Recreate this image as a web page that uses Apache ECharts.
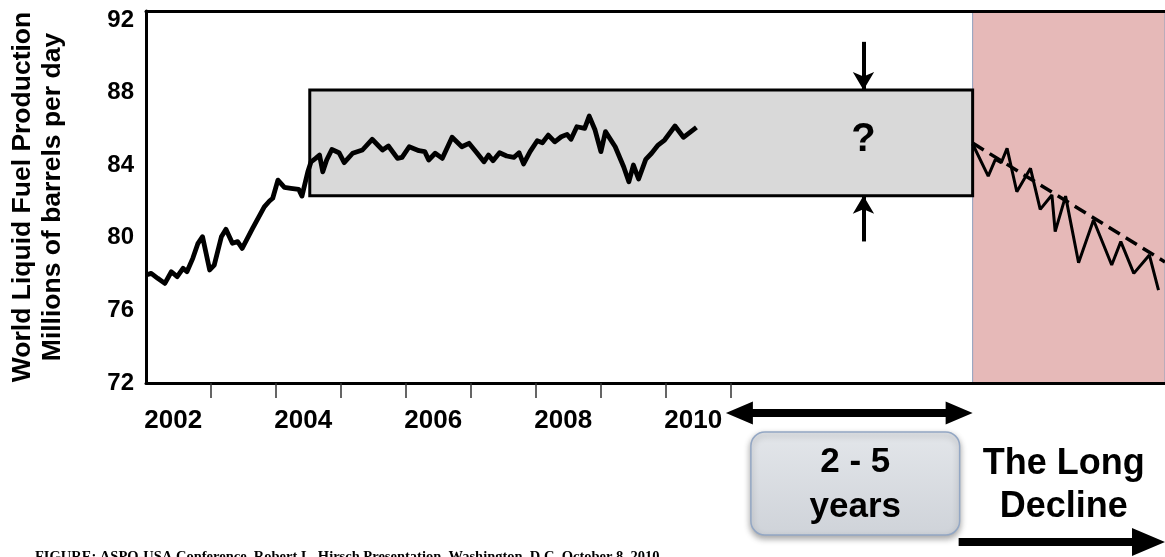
<!DOCTYPE html>
<html><head><meta charset="utf-8">
<script src="https://cdn.jsdelivr.net/npm/echarts@6/dist/echarts.min.js"></script>
<style>html,body{margin:0;padding:0;background:#fff}#c{width:1165px;height:557px}</style>
</head><body><div id="c"></div>
<script>
// ---- data ----
const prodYears = [2002.00,2002.08,2002.18,2002.29,2002.39,2002.48,2002.57,2002.63,2002.72,2002.80,2002.87,2002.98,
  2003.05,2003.16,2003.23,2003.33,2003.41,2003.48,2003.64,2003.82,2003.90,2003.95,
  2004.03,2004.13,2004.23,2004.35,2004.40,2004.49,2004.54,2004.61,2004.67,2004.72,2004.78,2004.86,2004.97,
  2005.05,2005.18,2005.33,2005.48,2005.64,2005.73,2005.87,2005.94,
  2006.05,2006.20,2006.29,2006.35,2006.45,2006.56,2006.71,2006.86,2006.97,
  2007.09,2007.20,2007.27,2007.34,2007.44,2007.55,2007.66,2007.74,2007.81,2007.91,
  2008.02,2008.10,2008.19,2008.29,2008.39,2008.48,2008.54,2008.63,2008.75,2008.82,2008.91,
  2009.00,2009.07,2009.22,2009.35,2009.43,2009.50,2009.58,2009.69,2009.78,2009.88,2009.98,
  2010.14,2010.27,2010.47];
const prodValues = [77.95,78.04,77.77,77.49,78.13,77.86,78.32,78.13,78.87,79.70,80.06,78.23,
  78.50,80.06,80.47,79.70,79.79,79.42,80.52,81.71,82.03,82.18,
  83.18,82.78,82.73,82.67,82.30,83.64,84.19,84.38,84.56,83.64,84.29,84.87,84.69,
  84.14,84.66,84.84,85.43,84.84,85.06,84.38,84.43,
  85.02,84.80,84.75,84.29,84.66,84.38,85.54,85.02,85.21,
  84.69,84.19,84.56,84.25,84.69,84.51,84.43,84.69,84.07,84.75,
  85.35,85.24,85.66,85.29,85.57,85.70,85.43,86.12,86.03,86.71,85.94,
  84.75,85.85,85.02,83.92,83.09,84.01,83.24,84.32,84.66,85.11,85.39,
  86.16,85.54,86.09];
const declineYears = [2014.72,2014.96,2015.07,2015.16,2015.25,2015.40,2015.61,2015.76,2015.94,2015.99,
  2016.15,2016.35,2016.58,2016.86,2017.00,2017.20,2017.44,2017.58];
const declineValues = [85.17,83.40,84.32,84.14,84.93,82.54,83.83,81.57,82.36,80.34,
  82.30,78.63,80.98,78.50,79.79,78.04,79.05,77.12];
const trendYears = [2014.72, 2017.68];
const trendValues = [85.22, 78.67];
const yTickValues = [72, 76, 80, 84, 88, 92];
const xLabelYears = [2002, 2004, 2006, 2008, 2010];
const xTickYears = [2003, 2004, 2005, 2006, 2007, 2008, 2009, 2010, 2011];
const plateauStart = 2004.52, plateauEnd = 2014.72, plateauLow = 82.32, plateauHigh = 88.14;
const declineStart = 2014.72;
const questionYear = 2013.04, questionValue = 85.4;
const arrowTopValue = 90.8, arrowBottomValue = 79.8;
const rangeText = ['2 - 5', 'years'];
const declineText = ['The Long', 'Decline'];
const footerText = 'FIGURE: ASPO-USA Conference, Robert L. Hirsch Presentation, Washington, D.C. October 8, 2010';

const X_MIN = 2002, X_MAX = 2017.68, Y_MIN = 72, Y_MAX = 92.5;
const FONT = '"Liberation Sans", Arial, sans-serif';

const pairs = (xs, ys) => xs.map((x, i) => [x, ys[i]]);

const chart = echarts.init(document.getElementById('c'), null, {renderer: 'canvas'});
const option = {
  animation: false,
  backgroundColor: '#fff',
  grid: {left: 143, right: 0, top: 11, bottom: 174, containLabel: false},
  xAxis: [{
    type: 'value', min: X_MIN, max: X_MAX, z: 4,
    axisLine: {show: true, onZero: false, lineStyle: {color: '#000', width: 3}},
    axisTick: {show: true, customValues: xTickYears, length: 15, lineStyle: {color: '#333', width: 1.5}},
    axisLabel: {show: true, customValues: xLabelYears.map(y => y + 0.42),
      formatter: v => String(Math.floor(v)), margin: 25,
      fontSize: 26, fontWeight: 'bold', color: '#000', fontFamily: FONT},
    splitLine: {show: false}
  }, {
    type: 'value', position: 'top', min: X_MIN, max: X_MAX, z: 4,
    axisLine: {show: true, onZero: false, lineStyle: {color: '#000', width: 3}},
    axisTick: {show: false}, axisLabel: {show: false}, splitLine: {show: false}
  }],
  yAxis: {
    type: 'value', min: Y_MIN, max: Y_MAX, interval: 4, z: 4,
    axisLine: {show: true, onZero: false, lineStyle: {color: '#000', width: 3}},
    axisTick: {show: false}, splitLine: {show: false},
    axisLabel: {customValues: yTickValues, formatter: v => (v % 4 === 0 ? String(v) : ''),
      fontSize: 24, fontWeight: 'bold', color: '#000', margin: 12, fontFamily: FONT},
    name: 'World Liquid Fuel Production\nMillions of barrels per day',
    nameLocation: 'middle', nameRotate: 90, nameGap: 78,
    nameTextStyle: {fontSize: 26.5, fontWeight: 'bold', color: '#000', lineHeight: 30, fontFamily: FONT}
  },
  series: [{
    name: 'Decline', type: 'line', xAxisIndex: 0, yAxisIndex: 0,
    data: pairs(declineYears, declineValues),
    symbol: 'none', lineStyle: {color: '#000', width: 3}, z: 3,
    markArea: {silent: true, z: 1,
      itemStyle: {color: '#e6b9b8', borderColor: '#8e9fbd', borderWidth: 1},
      data: [[{coord: [declineStart, Y_MIN]}, {coord: [X_MAX, Y_MAX]}]]}
  }, {
    name: 'Trend', type: 'line', data: pairs(trendYears, trendValues),
    symbol: 'none', lineStyle: {color: '#000', width: 3.5, type: [13, 7]}, z: 3
  }, {
    name: 'Production', type: 'line', data: pairs(prodYears, prodValues),
    symbol: 'none', lineStyle: {color: '#000', width: 4.8, join: 'round'}, z: 3,
    markArea: {silent: true, z: 1,
      itemStyle: {color: '#d9d9d9', borderColor: '#000', borderWidth: 3},
      data: [[{coord: [plateauStart, plateauLow]}, {coord: [plateauEnd, plateauHigh]}]]},
    markLine: {silent: true, symbol: ['none', 'arrow'], symbolSize: [16, 18],
      lineStyle: {color: '#000', width: 4, type: 'solid'}, label: {show: false},
      data: [
        [{coord: [questionYear, arrowTopValue]}, {coord: [questionYear, plateauHigh]}],
        [{coord: [questionYear, arrowBottomValue]}, {coord: [questionYear, plateauLow]}]
      ]},
    markPoint: {silent: true, symbol: 'circle', symbolSize: 1,
      itemStyle: {color: 'rgba(0,0,0,0)'},
      label: {show: true, position: 'inside', formatter: '?', fontSize: 40, fontWeight: 900,
        color: '#000', fontFamily: FONT},
      data: [{coord: [questionYear, questionValue]}]}
  }]
};
chart.setOption(option);

// ---- annotations below the axis, anchored to axis positions ----
const px2011 = chart.convertToPixel({xAxisIndex: 0}, 2011);
const pxDecl = chart.convertToPixel({xAxisIndex: 0}, declineStart);
const pyBase = chart.convertToPixel({yAxisIndex: 0}, Y_MIN);
const W = chart.getWidth(), H = chart.getHeight();
const ay = pyBase + 30;
const head = 27, hh = 11.5, sh = 4;
const ax0 = px2011 - 5;
const dbl = [[ax0, ay], [ax0 + head, ay - hh], [ax0 + head, ay - sh], [pxDecl - head, ay - sh],
  [pxDecl - head, ay - hh], [pxDecl, ay], [pxDecl - head, ay + hh], [pxDecl - head, ay + sh],
  [ax0 + head, ay + sh], [ax0 + head, ay + hh]];
const bx0 = ax0 + 25, bx1 = pxDecl - 13;
const by0 = pyBase + 49, by1 = pyBase + 152;
const bcx = (bx0 + bx1) / 2;
const ry = H - 15;
const ra0 = pxDecl - 14;
const rArrow = [[ra0, ry - 4], [W - 33, ry - 4], [W - 33, ry - 14], [W, ry], [W - 33, ry + 14], [W - 33, ry + 4], [ra0, ry + 4]];
const tcx = (pxDecl + W) / 2 - 5;
chart.setOption({
  graphic: [
    {type: 'polygon', shape: {points: dbl}, style: {fill: '#000'}, silent: true},
    {type: 'rect', shape: {x: bx0, y: by0, width: bx1 - bx0, height: by1 - by0, r: 14},
      style: {fill: new echarts.graphic.LinearGradient(0, 0, 0, 1, [{offset: 0, color: '#e3e6ea'}, {offset: 1, color: '#cfd3d9'}]),
        stroke: '#93a7c4', lineWidth: 1.5, shadowBlur: 6, shadowOffsetY: 3, shadowColor: 'rgba(0,0,0,0.35)'}, silent: true},
    {type: 'text', x: bcx, y: by0 + 30, style: {text: rangeText[0], fill: '#000', fontSize: 35, fontWeight: 'bold', fontFamily: FONT, align: 'center', verticalAlign: 'middle'}, silent: true},
    {type: 'text', x: bcx, y: by0 + 75, style: {text: rangeText[1], fill: '#000', fontSize: 35, fontWeight: 'bold', fontFamily: FONT, align: 'center', verticalAlign: 'middle'}, silent: true},
    {type: 'text', x: tcx, y: pyBase + 81, style: {text: declineText[0], fill: '#000', fontSize: 36, fontWeight: 'bold', fontFamily: FONT, align: 'center', verticalAlign: 'middle'}, silent: true},
    {type: 'text', x: tcx, y: pyBase + 124, style: {text: declineText[1], fill: '#000', fontSize: 36, fontWeight: 'bold', fontFamily: FONT, align: 'center', verticalAlign: 'middle'}, silent: true},
    {type: 'polygon', shape: {points: rArrow}, style: {fill: '#000'}, silent: true},
    {type: 'text', x: 35, y: H - 7, style: {text: footerText, fill: '#000', fontSize: 14.5, fontWeight: 'bold', fontFamily: '"Liberation Serif", "Times New Roman", serif', align: 'left', verticalAlign: 'top'}, silent: true}
  ]
});
</script></body></html>
